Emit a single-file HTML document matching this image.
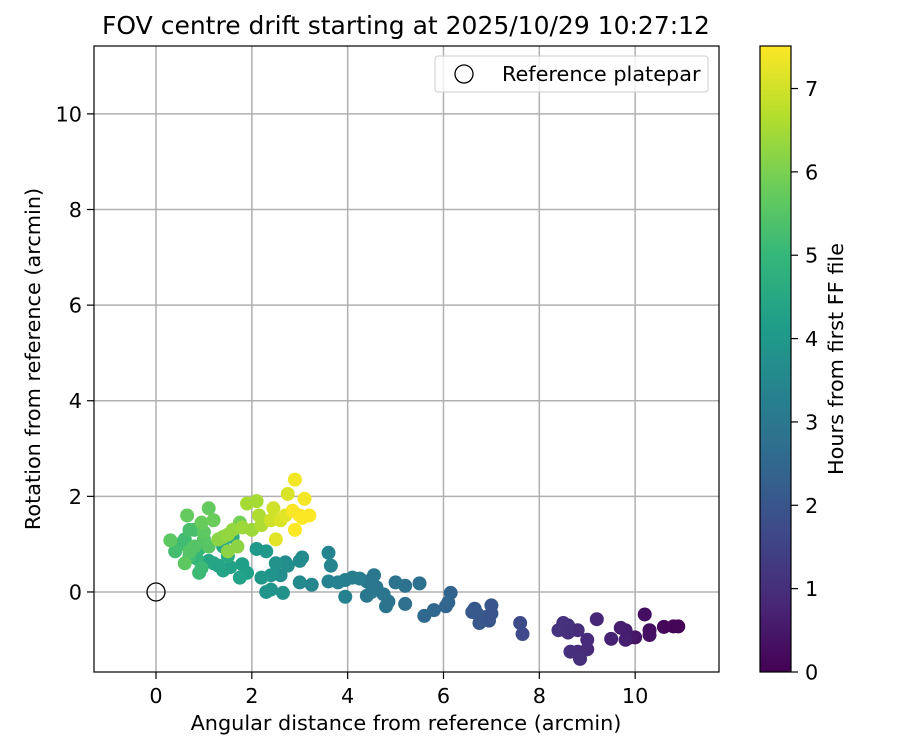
<!DOCTYPE html>
<html><head><meta charset="utf-8"><style>body{margin:0;background:#fff}svg{font-family:"DejaVu Sans","Liberation Sans",sans-serif}</style></head>
<body>
<svg id="chart" width="900" height="750" xmlns="http://www.w3.org/2000/svg"></svg>
<script>
const xs=[10.9,10.8,10.6,10.2,10.3,10.3,10.0,9.9,9.8,9.7,9.8,9.5,9.2,9.0,9.0,8.8,8.6,8.8,8.85,8.65,8.6,8.5,8.4,7.65,7.6,7.0,7.0,6.95,6.75,6.7,6.65,6.6,6.9,6.15,6.1,6.05,5.8,5.6,5.5,5.2,5.2,5.0,4.8,4.85,4.75,4.6,4.55,4.4,4.4,4.5,4.25,4.1,3.95,3.8,3.6,3.95,3.65,3.6,3.25,3.0,3.05,3.0,2.7,2.75,2.6,2.65,2.4,2.3,2.4,2.2,2.5,2.3,2.1,1.8,1.9,1.75,1.55,1.4,1.3,1.2,1.1,1.5,1.4,1.4,1.6,0.9,0.85,0.9,0.95,0.7,0.6,0.5,0.4,0.8,0.7,1.0,1.1,0.6,0.3,0.65,1.1,0.95,1.2,1.75,1.0,0.8,0.7,1.5,1.6,1.4,1.3,1.8,1.9,2.1,2.15,2.0,2.2,1.7,1.5,2.45,2.4,2.6,2.75,2.5,2.7,2.9,3.1,3.0,2.85,3.2,3.05,2.9];
const ys=[-0.72,-0.72,-0.73,-0.47,-0.8,-0.9,-0.95,-0.95,-0.8,-0.75,-1.0,-0.98,-0.57,-1.2,-1.0,-0.8,-0.85,-1.25,-1.4,-1.25,-0.7,-0.65,-0.8,-0.88,-0.65,-0.28,-0.45,-0.6,-0.65,-0.45,-0.35,-0.42,-0.52,-0.02,-0.22,-0.3,-0.38,-0.5,0.18,-0.25,0.13,0.2,-0.3,-0.2,-0.05,0.1,0.35,0.22,-0.08,0.0,0.28,0.3,0.25,0.2,0.22,-0.1,0.55,0.82,0.15,0.2,0.72,0.65,0.62,0.55,0.35,-0.02,0.05,0.0,0.35,0.3,0.6,0.85,0.9,0.58,0.4,0.3,0.52,0.45,0.55,0.6,0.65,0.75,0.95,1.1,1.15,0.9,0.7,0.4,0.5,0.75,1.1,1.0,0.85,1.3,1.3,1.1,0.95,0.6,1.08,1.6,1.75,1.45,1.5,1.45,1.25,0.95,0.85,1.2,1.3,1.15,1.1,1.35,1.85,1.9,1.6,1.3,1.4,0.95,0.85,1.75,1.5,1.5,2.05,1.1,1.6,2.35,1.95,1.6,1.7,1.6,1.55,1.3];
const hs=[0.05,0.08,0.12,0.3,0.3,0.35,0.4,0.45,0.6,0.62,0.65,0.7,0.8,0.9,0.92,0.95,1.0,0.95,1.0,1.02,1.05,1.05,1.1,1.7,1.72,2.0,2.0,2.02,2.05,2.05,2.08,2.1,2.0,2.4,2.42,2.45,2.5,2.55,2.8,2.75,2.8,2.85,2.9,2.9,2.95,2.95,3.0,3.0,3.0,3.0,3.2,3.25,3.25,3.3,3.35,3.3,3.4,3.4,3.5,3.55,3.6,3.62,3.65,3.7,3.7,3.8,3.85,3.9,3.9,3.95,3.8,4.0,4.0,4.2,4.25,4.3,4.3,4.35,4.4,4.4,4.45,4.5,4.5,4.55,4.6,5.0,5.0,5.1,5.1,5.15,5.2,5.2,5.25,5.3,5.3,5.5,5.55,5.6,5.6,5.7,5.7,5.75,5.8,5.9,5.6,5.5,5.5,6.3,6.3,6.2,6.2,6.4,6.5,6.5,6.6,6.4,6.6,6.2,6.2,7.0,7.0,7.1,7.1,7.2,7.2,7.4,7.4,7.45,7.45,7.5,7.5,7.5];
const xTicks=[0,2,4,6,8,10], yTicks=[0,2,4,6,8,10], cTicks=[0,1,2,3,4,5,6,7];
const X0=94,X1=719,Y0=46,Y1=672, xmin=-1.294,xmax=11.75,ymin=-1.674,ymax=11.42,hmax=7.51;
const sx=v=>X0+(v-xmin)/(xmax-xmin)*(X1-X0);
const sy=v=>Y1-(v-ymin)/(ymax-ymin)*(Y1-Y0);
const sc=v=>672-v/hmax*626;
const V=[[68,1,84],[72,40,120],[62,73,137],[49,104,142],[38,130,142],[31,158,137],[53,183,121],[109,205,89],[180,222,44],[253,231,37]];
function vir(t){t=Math.max(0,Math.min(1,t))*9;const i=Math.min(8,Math.floor(t)),f=t-i;const c=V[i].map((a,k)=>Math.round(a+(V[i+1][k]-a)*f));return `rgb(${c})`;}
const svg=document.getElementById('chart');const NS='http://www.w3.org/2000/svg';
function mk(tag,at,txt){const e=document.createElementNS(NS,tag);for(const k in at)e.setAttribute(k,at[k]);if(txt!==undefined)e.textContent=txt;svg.appendChild(e);return e;}
let e;
e=mk('text',{x:406,y:34,'font-size':'25','text-anchor':'middle'},'FOV centre drift starting at 2025/10/29 10:27:12');


xTicks.forEach(t=>{const x=sx(t);
e=mk('line',{x1:x,x2:x,y1:Y0,y2:Y1,stroke:'#b0b0b0','stroke-width':1.5});


mk('line',{x1:x,x2:x,y1:Y1,y2:Y1+7,stroke:'#000','stroke-width':1.2});
e=mk('text',{x:x,y:Y1+31,'font-size':'20.8','text-anchor':'middle'},t);

});
yTicks.forEach(t=>{const y=sy(t);
e=mk('line',{x1:X0,x2:X1,y1:y,y2:y,stroke:'#b0b0b0','stroke-width':1.5});


mk('line',{x1:X0-7,x2:X0,y1:y,y2:y,stroke:'#000','stroke-width':1.2});
e=mk('text',{x:X0-12,y:y+7.5,'font-size':'20.8','text-anchor':'end'},t);

});
const idx=xs.map((_,i)=>i).sort((a,b)=>hs[a]-hs[b]);
idx.forEach(i=>{e=mk('circle',{cx:sx(xs[i]),cy:sy(ys[i]),r:7,fill:vir(hs[i]/hmax)});

});
e=mk('circle',{cx:sx(0),cy:sy(0),r:9,fill:'none',stroke:'#000','stroke-width':1.3});


e=mk('rect',{x:X0,y:Y0,width:X1-X0,height:Y1-Y0,fill:'none',stroke:'#000','stroke-width':1.2});


e=mk('rect',{x:435,y:56,width:273,height:36,rx:3,fill:'#fff','fill-opacity':0.8,stroke:'#ccc'});


mk('circle',{cx:464,cy:74,r:9,fill:'none',stroke:'#000','stroke-width':1.3});
e=mk('text',{x:502,y:81,'font-size':'20.8'},'Reference platepar');


e=mk('text',{x:406,y:730,'font-size':'20.8','text-anchor':'middle'},'Angular distance from reference (arcmin)');


e=mk('text',{x:40,y:359,'font-size':'20.8','text-anchor':'middle',transform:'rotate(-90 40 359)'},'Rotation from reference (arcmin)');


const defs=mk('defs',{});const g=document.createElementNS(NS,'linearGradient');g.setAttribute('id','vg');g.setAttribute('x1','0');g.setAttribute('y1','1');g.setAttribute('x2','0');g.setAttribute('y2','0');
V.forEach((c,i)=>{const s=document.createElementNS(NS,'stop');s.setAttribute('offset',i/9);s.setAttribute('stop-color',`rgb(${c})`);g.appendChild(s);});defs.appendChild(g);
e=mk('rect',{x:760,y:46,width:31,height:626,fill:'url(#vg)',stroke:'#000','stroke-width':1.2});


cTicks.forEach(t=>{const y=sc(t);mk('line',{x1:791,x2:798,y1:y,y2:y,stroke:'#000','stroke-width':1.2});
e=mk('text',{x:805,y:y+7.5,'font-size':'20.8'},t);

});
e=mk('text',{x:843,y:359,'font-size':'20.8','text-anchor':'middle',transform:'rotate(-90 843 359)'},'Hours from first FF file');


</script>
</body></html>
